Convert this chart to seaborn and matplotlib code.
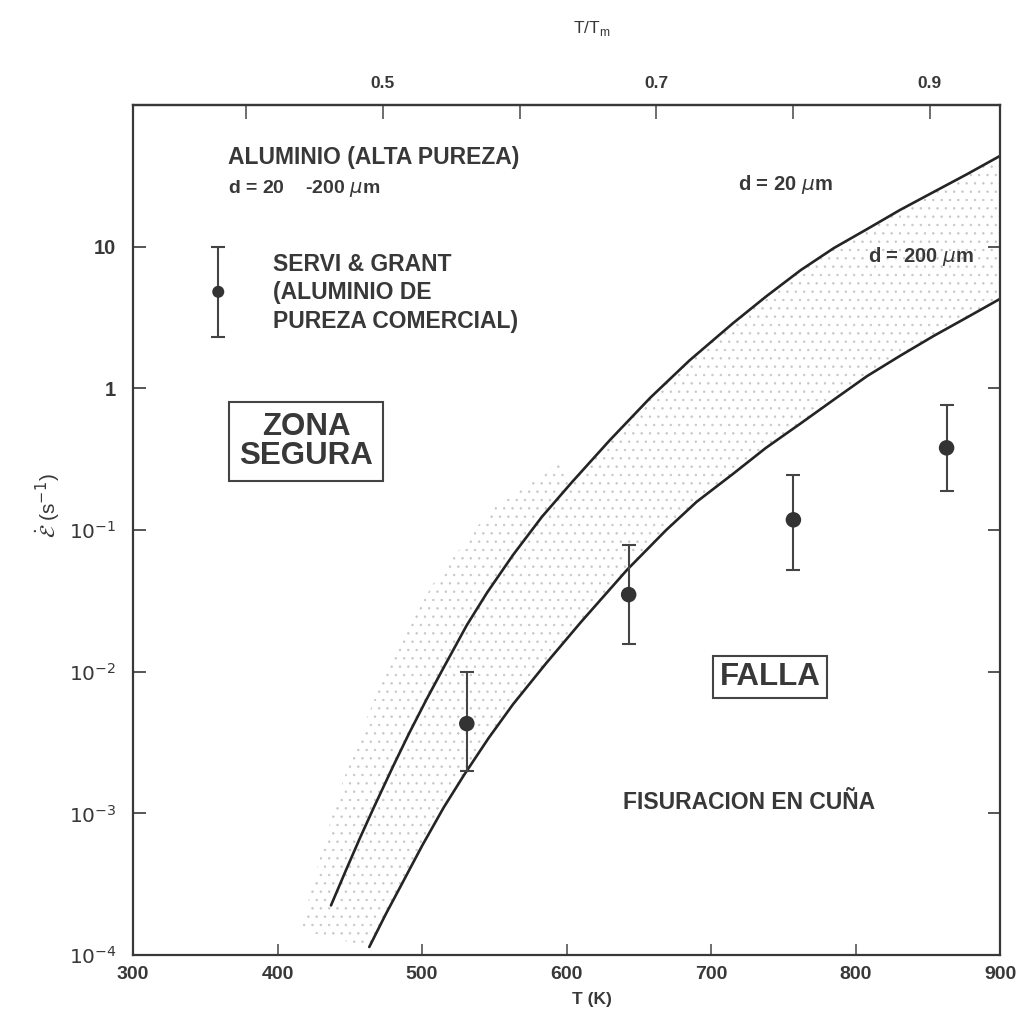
import numpy as np
import pandas as pd
import matplotlib
matplotlib.use("Agg")
import matplotlib.pyplot as plt
from matplotlib.ticker import FixedLocator, FixedFormatter, NullLocator
import seaborn as sns

# Critical strain rate vs temperature, high-purity aluminium, grain size d = 20 um
t_d20 = [437, 447, 457, 467, 480, 491, 503, 515, 531, 545, 563, 583, 604, 630,
         658, 685, 715, 738, 762, 785, 808, 831, 854, 877, 900]
rate_d20 = [2.24e-4, 3.89e-4, 6.68e-4, 1.12e-3, 2.15e-3, 3.66e-3, 6.34e-3, 1.07e-2,
            2.13e-2, 3.61e-2, 6.67e-2, 0.124, 0.219, 0.431, 0.859, 1.57, 2.87, 4.44,
            6.82, 9.77, 13.3, 18.2, 24.3, 32.4, 43.7]

# Same, grain size d = 200 um
t_d200 = [463.5, 475, 487, 500, 515, 529, 546, 563, 586, 610, 642, 669, 690, 715,
          738, 762, 785, 808, 831, 854, 877, 900]
rate_d200 = [1.14e-4, 1.95e-4, 3.31e-4, 5.89e-4, 1.10e-3, 1.86e-3, 3.39e-3, 5.89e-3,
             1.15e-2, 2.24e-2, 5.25e-2, 0.100, 0.158, 0.248, 0.380, 0.565, 0.832,
             1.22, 1.70, 2.34, 3.16, 4.28]

# Outer (low-temperature) edge of the experimental scatter band
t_scatter_edge = [416, 429, 443, 461, 481, 509, 547, 596]
rate_scatter_edge = [1.5e-4, 4.7e-4, 1.46e-3, 4.5e-3, 1.42e-2, 4.4e-2, 0.137, 0.31]

# Servi & Grant measurements (commercial-purity aluminium) with scatter bands
t_pts = [359, 531, 643, 757, 863]
rate_pts = [4.8, 4.3e-3, 3.5e-2, 0.118, 0.38]
rate_lo = [2.3, 2.0e-3, 1.57e-2, 5.2e-2, 0.19]
rate_hi = [10.0, 1.0e-2, 7.9e-2, 0.245, 0.76]

x_ticks = [300, 400, 500, 600, 700, 800, 900]
y_ticks = [1e-4, 1e-3, 1e-2, 1e-1, 1, 10]
y_ticklabels = ["$10^{-4}$", "$10^{-3}$", "$10^{-2}$", "$10^{-1}$", "1", "10"]
hom_ticks = [0.4, 0.5, 0.6, 0.7, 0.8, 0.9]
hom_ticklabels = ["", "0.5", "", "0.7", "", "0.9"]
T_MELT = 946.0

sns.set_theme(style="white")
plt.rcParams["font.family"] = ["Liberation Sans", "DejaVu Sans"]
plt.rcParams["hatch.linewidth"] = 0.5

INK = "#242424"
TXT = "#383838"

fig = plt.figure(figsize=(10.16, 10.21), dpi=100)
ax = fig.add_axes([0.1309, 0.0646, 0.8534, 0.8326])
ax.set_yscale("log")
ax.set_xlim(300, 900)
ax.set_ylim(1e-4, 1e2)

# stippled scatter band: outer edge, then the d = 20 um curve, back along d = 200 um
up_t = [t for t in t_d20 if t > t_scatter_edge[-1]]
up_r = [r for t, r in zip(t_d20, rate_d20) if t > t_scatter_edge[-1]]
band_t = np.r_[t_scatter_edge, up_t, t_d200[::-1]]
band_r = np.r_[rate_scatter_edge, up_r, rate_d200[::-1]]
ax.fill(band_t, band_r, facecolor="none", edgecolor="#c6c6c6", hatch="..", linewidth=0,
        zorder=1)

curves = pd.DataFrame({
    "T": t_d20 + t_d200,
    "rate": rate_d20 + rate_d200,
    "d": ["20"] * len(t_d20) + ["200"] * len(t_d200),
})
sns.lineplot(data=curves, x="T", y="rate", units="d", estimator=None, sort=False,
             color=INK, linewidth=1.9, ax=ax, legend=False, zorder=2)

ax.errorbar(t_pts, rate_pts,
            yerr=[np.subtract(rate_pts, rate_lo), np.subtract(rate_hi, rate_pts)],
            fmt="none", ecolor="#444444", elinewidth=1.5, capsize=5, capthick=1.5, zorder=3)
pts = pd.DataFrame({"T": t_pts, "rate": rate_pts})
sns.scatterplot(data=pts.iloc[1:], x="T", y="rate", s=125, color="#333333",
                edgecolor="none", ax=ax, zorder=4)
sns.scatterplot(data=pts.iloc[:1], x="T", y="rate", s=75, color="#333333",
                edgecolor="none", ax=ax, zorder=4)

# axes frame and ticks
for s in ax.spines.values():
    s.set_visible(True)
    s.set_color("#383838")
    s.set_linewidth(1.6)

ax.xaxis.set_major_locator(FixedLocator(x_ticks))
ax.xaxis.set_minor_locator(NullLocator())
ax.yaxis.set_major_locator(FixedLocator(y_ticks))
ax.yaxis.set_major_formatter(FixedFormatter(y_ticklabels))
ax.yaxis.set_minor_locator(NullLocator())
ax.tick_params(axis="x", direction="in", length=8, width=1.2, color="#555555",
               labelsize=14, pad=8, top=False, bottom=True, labelcolor=TXT)
ax.tick_params(axis="y", direction="in", length=9, width=1.4, color="#555555",
               labelsize=14.5, pad=12, left=True, right=True, labelcolor=TXT)
for lab in ax.get_xticklabels():
    lab.set_fontweight("bold")
for lab in ax.get_yticklabels():
    lab.set_fontweight("bold")

sec = ax.secondary_xaxis("top", functions=(lambda t: t / T_MELT, lambda h: h * T_MELT))
sec.xaxis.set_major_locator(FixedLocator(hom_ticks))
sec.xaxis.set_major_formatter(FixedFormatter(hom_ticklabels))
sec.xaxis.set_minor_locator(NullLocator())
sec.tick_params(axis="x", direction="in", length=10, width=1.2, color="#555555",
                labelsize=12.5, pad=10, labelcolor=TXT)
for lab in sec.get_xticklabels():
    lab.set_fontweight("bold")
sec.spines["top"].set_color("#383838")
sec.spines["top"].set_linewidth(1.6)
fig.text(592 / 1016, 1 - 28 / 1021, r"T/T$_\mathregular{m}$", fontsize=12.5, color=TXT,
         ha="center", va="center")

ax.set_xlabel("T (K)", fontsize=12.5, fontweight="bold", color=TXT)
ax.xaxis.set_label_coords(0.529, -0.043)
ax.set_ylabel(r"$\dot{\mathcal{E}}$ (s$^{-1}$)", fontsize=15, color=TXT)
ax.yaxis.set_label_coords(-0.082, 0.529)

# annotations
def axfrac(px, py):
    return (px - 133) / 867, (955 - py) / 850

tk = dict(transform=ax.transAxes, color=TXT, fontweight="bold")
ax.text(*axfrac(228, 158), "ALUMINIO (ALTA PUREZA)", fontsize=16.5, va="center", **tk)
ax.text(*axfrac(228, 189), "d = 20    -200 $\\mu$m", fontsize=14, va="center", **tk)
ax.text(*axfrac(273, 293), "SERVI & GRANT\n(ALUMINIO DE\nPUREZA COMERCIAL)",
        fontsize=16.5, va="center", linespacing=1.29, **tk)
ax.text(*axfrac(306, 441.5), "ZONA\nSEGURA", fontsize=22.5, ha="center", va="center",
        linespacing=0.95,
        bbox=dict(boxstyle="square,pad=0.33", facecolor="white", edgecolor="#444444", lw=1.5),
        **tk)
ax.text(*axfrac(770, 677), "FALLA", fontsize=22.5, ha="center", va="center",
        bbox=dict(boxstyle="square,pad=0.2", facecolor="white", edgecolor="#444444", lw=1.5),
        **tk)
ax.text(*axfrac(623, 802), "FISURACION EN CUÑA", fontsize=16.5, va="center", **tk)
ax.text(*axfrac(738, 185), "d = 20 $\\mu$m", fontsize=14.5, va="center", **tk)
ax.text(*axfrac(868, 257), "d = 200 $\\mu$m", fontsize=14.5, va="center", **tk)

fig.savefig("out.png", dpi=100, facecolor="white")
